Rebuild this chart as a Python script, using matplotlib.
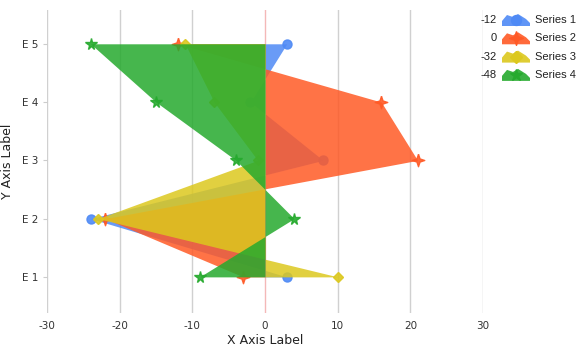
import numpy as np
import matplotlib.pyplot as plt
from matplotlib.patches import Polygon
from matplotlib.lines import Line2D

categories = ['E 1', 'E 2', 'E 3', 'E 4', 'E 5']
series_names = ['Series 1', 'Series 2', 'Series 3', 'Series 4']
s1 = [3, -24, 8, -2, 3]
s2 = [-3, -22, 21, 16, -12]
s3 = [10, -23, -1, -7, -11]
s4 = [-9, 4, -4, -15, -24]
x_ticks = [-30, -20, -10, 0, 10, 20, 30]

all_series = [s1, s2, s3, s4]
colors = ['#4f8af5', '#ff5a26', '#dcc81e', '#26aa2e']
star4 = [(0, 1), (0.25, 0.25), (1, 0), (0.25, -0.25), (0, -1), (-0.25, -0.25), (-1, 0), (-0.25, 0.25), (0, 1)]
markers = ['o', star4, 'D', '*']
msizes = [6.5, 9, 5.5, 8.5]

W, H = 586, 353
fig = plt.figure(figsize=(W / 100, H / 100), dpi=100)
ax = fig.add_axes([47 / W, 40 / H, 436 / W, 303 / H])

y = np.arange(1, len(categories) + 1)
for i, (vals, c, m, ms) in enumerate(zip(all_series, colors, markers, msizes)):
    # each series: filled area to x=0, then its markers, stacked in order
    ax.fill_betweenx(y, 0, vals, color=c, alpha=0.85, linewidth=0, zorder=2 + 2 * i)
    ax.plot(vals, y, linestyle='none', marker=m, markersize=ms, color=c,
            markeredgecolor=c, alpha=0.9, zorder=3 + 2 * i)

ax.set_xlim(-30, 30)
ax.set_ylim(0.38, 5.58)
ax.set_xticks(x_ticks)
ax.set_xticklabels([str(t) for t in x_ticks])
ax.set_yticks(y)
ax.set_yticklabels(categories)
for t in x_ticks:
    ax.axvline(t, color='#f4b8b8' if t == 0 else '#d0d0d0', linewidth=1, zorder=1)
for s in ax.spines.values():
    s.set_visible(False)
ax.tick_params(axis='x', length=0, labelsize=7.5, colors='#333333', pad=6)
ax.tick_params(axis='y', length=3, color='#cccccc', labelsize=7.5, colors='#333333', pad=3)
ax.set_xlabel('X Axis Label', fontsize=9, color='#222222', labelpad=2)
ax.set_ylabel('Y Axis Label', fontsize=9, color='#222222', labelpad=6)


def fx(px):
    return px / W


def fy(py):
    return 1 - py / H


# legend drawn by hand: total, icon, name
icon = [(0, 0), (0, 5), (5, 11), (11, 9), (16, 12), (24, 7), (28, 3), (28, 0)]
for i, (vals, name, c, m, ms) in enumerate(zip(all_series, series_names, colors, markers, msizes)):
    ry = 20 + i * 18.3
    fig.text(fx(497), fy(ry), str(sum(vals)), ha='right', va='center',
             fontsize=8, color='#222222', family='Liberation Sans')
    pts = [(fx(502 + px), fy(ry + 6 - py)) for px, py in icon]
    fig.add_artist(Polygon(pts, closed=True, transform=fig.transFigure,
                           facecolor=c, edgecolor='none', alpha=0.9))
    fig.add_artist(Line2D([fx(516)], [fy(ry)], transform=fig.transFigure,
                          marker=m, markersize=ms * 1.1, color=c,
                          markeredgecolor=c, linestyle='none'))
    fig.text(fx(535), fy(ry), name, ha='left', va='center',
             fontsize=8, color='#222222', family='Liberation Sans')

fig.savefig('out.png', dpi=100)
